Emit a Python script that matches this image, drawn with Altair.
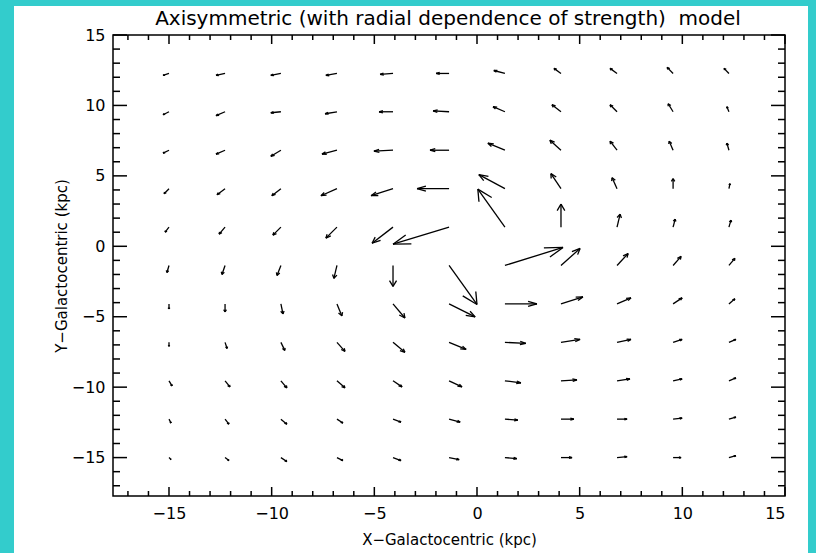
import math
import altair as alt
import pandas as pd

TITLE = "Axisymmetric (with radial dependence of strength) \u00a0model"
X_TITLE = "X\u2212Galactocentric (kpc)"
Y_TITLE = "Y\u2212Galactocentric (kpc)"

AXIS_RANGE = [-17.727, 15.0]
TICK_LABELS = [-15, -10, -5, 0, 5, 10, 15]
MINOR_TICKS = [t for t in range(-17, 16) if t % 5 != 0]

X_GRID = [-15.0, -12.27, -9.55, -6.82, -4.09, -1.36, 1.36, 4.09, 6.82, 9.55, 12.27]
Y_GRID = [12.27, 9.55, 6.82, 4.09, 1.36, -1.36, -4.09, -6.82, -9.55, -12.27, -15.0]

# vector components (kpc), one row per Y_GRID entry (top to bottom)
U = [
    [-0.29, -0.44, -0.49, -0.54, -0.63, -0.63, -0.54, -0.34, -0.34, -0.29, -0.24],
    [-0.29, -0.44, -0.49, -0.58, -0.68, -0.78, -0.58, -0.44, -0.34, -0.24, -0.10],
    [-0.29, -0.44, -0.49, -0.73, -0.93, -0.93, -0.83, -0.54, -0.34, -0.19, -0.10],
    [-0.24, -0.39, -0.44, -0.78, -1.07, -1.56, -1.27, -0.49, -0.24, 0.00, 0.05],
    [-0.19, -0.29, -0.39, -0.54, -1.02, -2.73, -1.32, 0.00, 0.15, 0.10, 0.10],
    [-0.10, -0.15, -0.19, -0.15, 0.00, 1.36, 2.83, 0.93, 0.54, 0.39, 0.29],
    [0.00, 0.00, 0.10, 0.24, 0.58, 1.27, 1.56, 1.07, 0.68, 0.44, 0.29],
    [0.00, 0.10, 0.19, 0.39, 0.58, 0.83, 1.02, 0.93, 0.68, 0.44, 0.34],
    [0.15, 0.24, 0.29, 0.39, 0.44, 0.63, 0.78, 0.78, 0.63, 0.44, 0.34],
    [0.10, 0.19, 0.29, 0.29, 0.39, 0.54, 0.63, 0.63, 0.49, 0.44, 0.34],
    [0.10, 0.19, 0.29, 0.29, 0.39, 0.49, 0.58, 0.54, 0.49, 0.39, 0.34],
]
V = [
    [-0.14, -0.14, -0.14, -0.14, -0.07, 0.00, 0.21, 0.36, 0.36, 0.43, 0.36],
    [-0.21, -0.28, -0.07, -0.14, 0.00, 0.07, 0.36, 0.50, 0.50, 0.57, 0.36],
    [-0.21, -0.28, -0.43, -0.28, -0.07, 0.00, 0.50, 0.71, 0.64, 0.64, 0.50],
    [-0.36, -0.43, -0.50, -0.50, -0.50, 0.00, 1.00, 1.07, 0.78, 0.71, 0.36],
    [-0.36, -0.50, -0.57, -0.78, -1.14, -1.21, 2.70, 1.63, 0.92, 0.57, 0.50],
    [-0.50, -0.64, -0.71, -0.92, -1.49, -2.77, 1.28, 1.21, 0.85, 0.64, 0.50],
    [-0.36, -0.57, -0.71, -0.85, -1.00, -0.92, 0.00, 0.50, 0.43, 0.43, 0.36],
    [-0.28, -0.43, -0.57, -0.64, -0.71, -0.50, -0.07, 0.21, 0.21, 0.21, 0.21],
    [-0.36, -0.43, -0.50, -0.50, -0.43, -0.43, -0.14, 0.07, 0.14, 0.14, 0.21],
    [-0.28, -0.36, -0.36, -0.28, -0.21, -0.21, -0.07, 0.00, 0.00, 0.07, 0.14],
    [-0.14, -0.21, -0.28, -0.21, -0.21, -0.14, -0.07, 0.00, 0.07, 0.00, 0.14],
]

W, H = 672, 461
CYAN = "#33CCCC"
FONT = "DejaVu Sans"

# arrow segments: shaft + two head barbs (IDL velovect style, data space)
R = 0.3
CT = math.cos(math.radians(22.5))
ST = math.sin(math.radians(22.5))
segs = []
for r, yv in enumerate(Y_GRID):
    for c, xv in enumerate(X_GRID):
        u, v = U[r][c], V[r][c]
        xh, yh = xv + u, yv + v
        segs.append(dict(x=xv, y=yv, x2=xh, y2=yh))
        segs.append(dict(x=xh, y=yh, x2=xh - R * (CT * u - ST * v), y2=yh - R * (CT * v + ST * u)))
        segs.append(dict(x=xh, y=yh, x2=xh - R * (CT * u + ST * v), y2=yh - R * (CT * v - ST * u)))
seg_df = pd.DataFrame(segs)

xscale = alt.Scale(domain=AXIS_RANGE, nice=False, zero=False)
yscale = alt.Scale(domain=AXIS_RANGE, nice=False, zero=False)

xaxis = alt.Axis(values=TICK_LABELS, ticks=False, domain=False, grid=False,
                 labelFont=FONT, labelFontSize=16, labelColor="black", labelPadding=9,
                 title=X_TITLE, titleFont=FONT, titleFontSize=15, titleFontWeight="normal",
                 titleColor="black", titlePadding=11, zindex=1)
yaxis = alt.Axis(values=TICK_LABELS, ticks=False, domain=False, grid=False,
                 labelFont=FONT, labelFontSize=16, labelColor="black", labelPadding=8,
                 title=Y_TITLE, titleFont=FONT, titleFontSize=15, titleFontWeight="normal",
                 titleColor="black", titlePadding=2, zindex=1)

arrows = alt.Chart(seg_df).mark_rule(color="black", strokeWidth=1.3).encode(
    x=alt.X("x:Q", scale=xscale, axis=xaxis),
    y=alt.Y("y:Q", scale=yscale, axis=yaxis),
    x2="x2:Q",
    y2="y2:Q",
)

major_df = pd.DataFrame({"t": TICK_LABELS})
minor_df = pd.DataFrame({"t": MINOR_TICKS})


def xticks(df, length):
    base = alt.Chart(df).mark_rule(color="black", strokeWidth=1.5)
    bottom = base.encode(x=alt.X("t:Q", scale=xscale, axis=xaxis),
                         y=alt.value(H), y2=alt.value(H - length))
    top = base.encode(x=alt.X("t:Q", scale=xscale, axis=xaxis),
                      y=alt.value(0), y2=alt.value(length))
    return [bottom, top]


def yticks(df, length):
    base = alt.Chart(df).mark_rule(color="black", strokeWidth=1.5)
    left = base.encode(y=alt.Y("t:Q", scale=yscale, axis=yaxis),
                       x=alt.value(0), x2=alt.value(length))
    right = base.encode(y=alt.Y("t:Q", scale=yscale, axis=yaxis),
                        x=alt.value(W), x2=alt.value(W - length))
    return [left, right]


one = pd.DataFrame({"k": [0]})
cyan_left = alt.Chart(one).mark_rect(color=CYAN).encode(
    x=alt.value(-113), x2=alt.value(-99), y=alt.value(-35), y2=alt.value(H + 57))
cyan_top = alt.Chart(one).mark_rect(color=CYAN).encode(
    x=alt.value(-113), x2=alt.value(W + 31), y=alt.value(-35), y2=alt.value(-29))
cyan_right = alt.Chart(one).mark_rect(color=CYAN).encode(
    x=alt.value(W + 23), x2=alt.value(W + 31), y=alt.value(-35), y2=alt.value(H + 57))

title_df = pd.DataFrame({"label": [TITLE]})
title_mark = alt.Chart(title_df).mark_text(
    font=FONT, fontSize=20, color="black", align="center", baseline="middle"
).encode(text="label:N", x=alt.value(W / 2 - 1), y=alt.value(-16))

layers = [arrows] + xticks(major_df, 9) + xticks(minor_df, 5) + yticks(major_df, 14) + yticks(minor_df, 7) \
    + [cyan_left, cyan_top, cyan_right, title_mark]

chart = alt.layer(*layers).properties(
    width=W,
    height=H,
    autosize=alt.AutoSizeParams(type="none"),
    padding={"left": 113, "top": 35, "right": 31, "bottom": 57},
    background="white",
).configure_view(stroke="black", strokeWidth=1.5)

chart.save("out.html", embed_options={"renderer": "svg", "actions": False})
